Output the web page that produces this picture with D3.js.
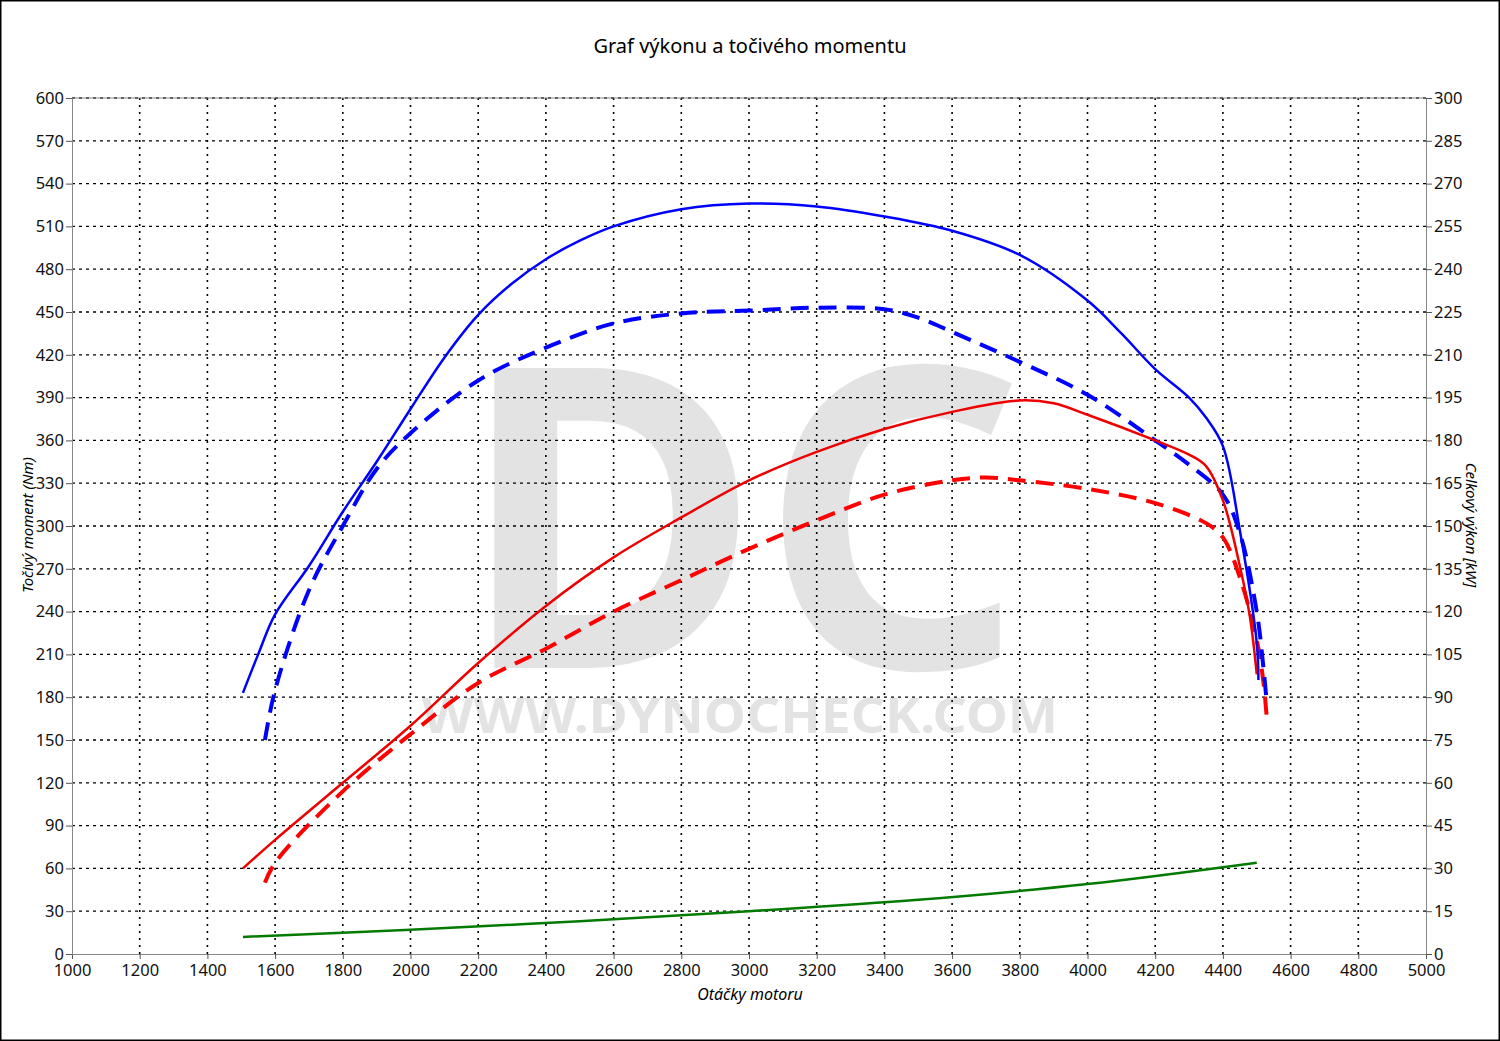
<!DOCTYPE html>
<html><head><meta charset="utf-8">
<script src="https://cdn.jsdelivr.net/npm/d3@7"></script>
<style>body{margin:0;background:#fff}svg{display:block}text{font-family:"Noto Sans",sans-serif}</style>
</head><body><svg id="c" width="1500" height="1041"></svg>
<script>
const xTicks=[1000,1200,1400,1600,1800,2000,2200,2400,2600,2800,3000,3200,3400,3600,3800,4000,4200,4400,4600,4800,5000];
const torqueTuned=[[1505,183],[1550,210],[1600,238],[1700,272],[1800,310],[1900,345],[2000,382],[2100,418],[2200,448],[2300,470],[2400,487],[2500,500],[2600,510],[2800,522],[3000,526],[3200,524],[3400,517],[3600,507],[3800,490],[4000,458],[4100,435],[4200,410],[4300,390],[4350,376],[4400,356],[4450,297],[4500,218],[4505,192]];
const torqueStock=[[1570,150],[1600,185],[1700,255],[1800,300],[1900,340],[2000,365],[2200,402],[2400,425],[2600,442],[2800,449],[3000,451],[3200,453],[3400,452],[3500,446],[3600,436],[3800,415],[4000,392],[4200,360],[4300,343],[4400,322],[4450,295],[4500,240],[4520,200],[4530,175]];
const powerTuned=[[1505,30],[1600,40],[1800,60],[2000,80],[2200,102],[2400,122],[2600,139],[2800,153],[3000,166],[3200,176],[3400,184],[3600,190],[3800,194],[3900,193],[4000,189],[4200,180],[4300,175],[4350,171],[4400,159],[4450,136],[4480,118],[4500,98]];
const powerStock=[[1570,25],[1600,32],[1800,57],[2000,77],[2200,95],[2400,107],[2600,120],[2800,131],[3000,142],[3200,152],[3400,161],[3600,166],[3700,167],[3800,166],[4000,163],[4200,158],[4350,151],[4400,146],[4450,132],[4500,110],[4520,95],[4530,82]];
const loss=[[1505,12],[2000,17],[2500,23],[3000,30],[3500,38],[4000,49],[4500,64]];
const svg=d3.select("#c");
svg.append("rect").attr("x",0.5).attr("y",0.5).attr("width",1499).attr("height",1040).attr("fill","none").attr("stroke","#000").attr("stroke-width",2);
const x=d3.scaleLinear().domain([1000,5000]).range([72,1426]);
const yL=d3.scaleLinear().domain([0,600]).range([954,98]);
const yR=d3.scaleLinear().domain([0,300]).range([954,98]);
// watermark
svg.append("text").attr("x",742).attr("y",668).attr("text-anchor","middle").attr("font-size",420).attr("font-weight","bold").attr("fill","#e3e3e3").attr("font-family","DejaVu Sans").attr("textLength",565).attr("lengthAdjust","spacingAndGlyphs").text("DC");
svg.append("text").attr("x",740).attr("y",733).attr("text-anchor","middle").attr("font-size",48).attr("font-weight","bold").attr("fill","#e3e3e3").attr("font-family","DejaVu Sans").attr("textLength",636).attr("lengthAdjust","spacingAndGlyphs").text("WWW.DYNOCHECK.COM");
// grid
const g=svg.append("g");
d3.range(0,601,30).forEach(v=>{if(v>0)g.append("line").attr("x1",72).attr("x2",1426).attr("y1",yL(v)).attr("y2",yL(v)).attr("stroke","#000").attr("stroke-dasharray","3,4").attr("stroke-width",1.3);});
xTicks.forEach(v=>{if(v>1000&&v<5000)g.append("line").attr("x1",x(v)).attr("x2",x(v)).attr("y1",98).attr("y2",954).attr("stroke","#000").attr("stroke-dasharray","2,5").attr("stroke-width",1.6);});
// axes
const ax=svg.append("g");
ax.append("g").attr("transform","translate(0,954)").call(d3.axisBottom(x).tickValues(xTicks).tickSize(5).tickPadding(5).tickFormat(d3.format("d")));
ax.append("g").attr("transform","translate(72,0)").call(d3.axisLeft(yL).tickValues(d3.range(0,601,30)).tickSize(6).tickPadding(2));
ax.append("g").attr("transform","translate(1426,0)").call(d3.axisRight(yR).tickValues(d3.range(0,301,15)).tickSize(6).tickPadding(2));
ax.selectAll("path.domain").attr("stroke","#888");
ax.selectAll(".tick line").attr("stroke","#555");
ax.selectAll(".tick text").attr("font-size",16.5).attr("fill","#111").attr("font-family","Noto Sans");
svg.append("line").attr("x1",72).attr("x2",1426).attr("y1",98).attr("y2",98).attr("stroke","#888");
// lines
const lL=d3.line().x(d=>x(d[0])).y(d=>yL(d[1])).curve(d3.curveCatmullRom.alpha(0.5));
const lR=d3.line().x(d=>x(d[0])).y(d=>yR(d[1])).curve(d3.curveCatmullRom.alpha(0.5));
svg.append("path").attr("d",lL(loss)).attr("fill","none").attr("stroke","#007a00").attr("stroke-width",2.5);
svg.append("path").attr("d",lR(powerStock)).attr("fill","none").attr("stroke","#f00").attr("stroke-width",4).attr("stroke-dasharray","18,10");
svg.append("path").attr("d",lL(torqueStock)).attr("fill","none").attr("stroke","#00f").attr("stroke-width",4).attr("stroke-dasharray","18,10");
svg.append("path").attr("d",lR(powerTuned)).attr("fill","none").attr("stroke","#e00").attr("stroke-width",2.5);
svg.append("path").attr("d",lL(torqueTuned)).attr("fill","none").attr("stroke","#00f").attr("stroke-width",2.5);
// labels
svg.append("text").attr("x",750).attr("y",53).attr("text-anchor","middle").attr("font-size",20).text("Graf výkonu a točivého momentu");
svg.append("text").attr("x",750).attr("y",1000).attr("text-anchor","middle").attr("font-size",16).attr("font-style","italic").text("Otáčky motoru");
svg.append("text").attr("transform","translate(33,525) rotate(-90)").attr("text-anchor","middle").attr("font-size",15).attr("font-style","italic").text("Točivý moment (Nm)");
svg.append("text").attr("transform","translate(1466,525) rotate(90)").attr("text-anchor","middle").attr("font-size",15).attr("font-style","italic").text("Celkový výkon [kW]");
</script></body></html>
